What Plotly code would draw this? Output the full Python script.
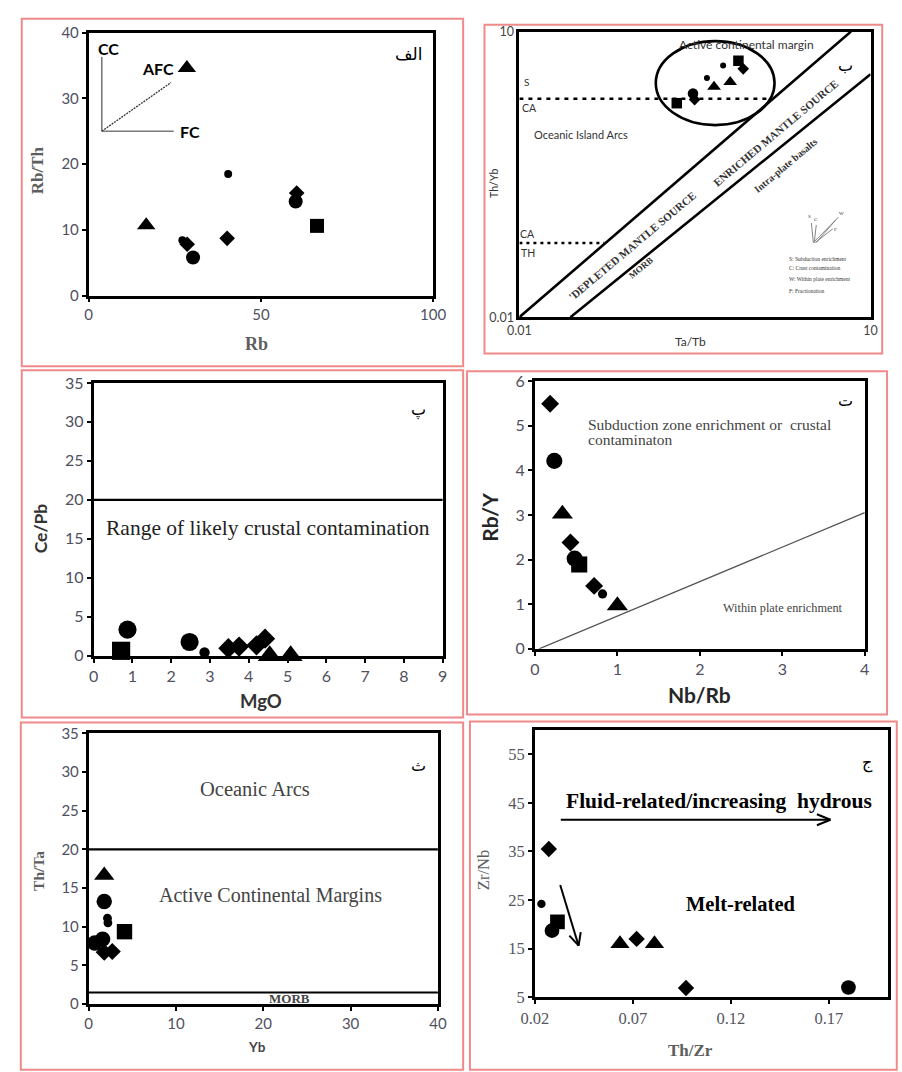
import math
import plotly.graph_objects as go

W, H = 902, 1072

# ---------------- DATA ----------------
# Panel الف : Rb vs Rb/Th
p1_circle_x = [30.3, 60.1]
p1_circle_y = [5.8, 14.3]
p1_dot_x = [40.5, 27.2]
p1_dot_y = [18.5, 8.4]
p1_diamond_x = [40.2, 60.4, 28.6]
p1_diamond_y = [8.7, 15.6, 7.8]
p1_triangle_x = [16.7, 28.5]
p1_triangle_y = [10.7, 34.6]
p1_square_x = [66.3]
p1_square_y = [10.6]
p1_vec_cc_x = [3.8, 3.8]
p1_vec_cc_y = [36.3, 25.0]
p1_vec_fc_x = [3.8, 24.7]
p1_vec_fc_y = [25.0, 25.0]
p1_vec_afc_x = [3.8, 23.9]
p1_vec_afc_y = [25.0, 32.4]

# Panel ب : Ta/Yb vs Th/Yb (log-log)
p2_circle_x = [0.304]
p2_circle_y = [2.24]
p2_dot_x = [0.40, 0.55]
p2_dot_y = [3.25, 4.39]
p2_diamond_x = [0.314, 0.817]
p2_diamond_y = [1.93, 4.06]
p2_triangle_x = [0.46, 0.632]
p2_triangle_y = [2.63, 2.96]
p2_square_x = [0.221, 0.743]
p2_square_y = [1.77, 4.94]
p2_upper_line_x = [0.01, 6.8]
p2_upper_line_y = [0.01, 10]
p2_lower_line_x = [0.0273, 10]
p2_lower_line_y = [0.01, 3.57]
p2_s_ca_x = [0.01, 1.31]
p2_s_ca_y = [1.97, 1.97]
p2_ca_th_x = [0.01, 0.053]
p2_ca_th_y = [0.06, 0.06]

# Panel پ : MgO vs Ce/Pb
p3_circle_x = [0.875, 2.475]
p3_circle_y = [3.35, 1.76]
p3_dot_x = [2.86]
p3_dot_y = [0.42]
p3_diamond_x = [3.475, 3.75, 4.2, 4.42]
p3_diamond_y = [0.96, 1.17, 1.34, 2.18]
p3_triangle_x = [4.54, 5.08]
p3_triangle_y = [0.0, 0.0]
p3_square_x = [0.71]
p3_square_y = [0.63]
p3_limit_y = 20

# Panel ت : Nb/Rb vs Rb/Y
p4_circle_x = [0.235, 0.482]
p4_circle_y = [4.21, 2.02]
p4_dot_x = [0.82]
p4_dot_y = [1.23]
p4_diamond_x = [0.184, 0.431, 0.718]
p4_diamond_y = [5.49, 2.38, 1.41]
p4_triangle_x = [0.333, 1.0]
p4_triangle_y = [3.02, 0.97]
p4_square_x = [0.537]
p4_square_y = [1.89]
p4_line_x = [0.05, 4.0]
p4_line_y = [0.0, 3.05]

# Panel ث : Yb vs Th/Ta
p5_circle_x = [1.78, 1.6, 0.7]
p5_circle_y = [13.26, 8.4, 7.9]
p5_dot_x = [2.15, 2.2]
p5_dot_y = [11.1, 10.5]
p5_diamond_x = [1.78, 2.7]
p5_diamond_y = [6.7, 6.8]
p5_triangle_x = [1.78]
p5_triangle_y = [16.65]
p5_square_x = [4.1]
p5_square_y = [9.36]
p5_arc_y = 20
p5_morb_y = 1.5

# Panel ج : Th/Zr vs Zr/Nb
p6_circle_x = [0.0287, 0.18]
p6_circle_y = [18.7, 7.0]
p6_dot_x = [0.0233]
p6_dot_y = [24.2]
p6_diamond_x = [0.0271, 0.0719, 0.0971]
p6_diamond_y = [35.5, 17.0, 6.9]
p6_triangle_x = [0.0634, 0.081]
p6_triangle_y = [16.0, 16.0]
p6_square_x = [0.0315]
p6_square_y = [20.5]
p6_fluid_arrow_x = [0.0332, 0.1708]
p6_fluid_arrow_y = [41.5, 41.5]
p6_melt_arrow_x = [0.0329, 0.0423]
p6_melt_arrow_y = [28.1, 15.6]

# ---------------- LAYOUT GEOMETRY ----------------
panels = {
    1: dict(box=(77, 23, 432, 291), xr=[0, 100], yr=[0, 40]),
    2: dict(box=(521, 22, 883, 313), xr=[-2, 1], yr=[-2, 1], log=True),
    3: dict(box=(82, 380, 442, 658), xr=[0, 9], yr=[0, 35]),
    4: dict(box=(537, 378, 877, 651), xr=[0, 4], yr=[0, 6]),
    5: dict(box=(77, 737, 437, 1013), xr=[0, 40], yr=[0, 35]),
    6: dict(box=(537, 733.5, 900.6, 1006), xr=[0.02, 0.2], yr=[5, 60]),
}


def PX(px):
    return px / W


def PY(py):
    return 1 - py / H


def to_page(i, x, y):
    p = panels[i]
    x0, y0, x1, y1 = p['box']
    if p.get('log'):
        x, y = math.log10(x), math.log10(y)
    fx = (x - p['xr'][0]) / (p['xr'][1] - p['xr'][0])
    fy = (y - p['yr'][0]) / (p['yr'][1] - p['yr'][0])
    return x0 + fx * (x1 - x0), y1 - fy * (y1 - y0)


fig = go.Figure()

tick_fonts = {
    1: dict(family='Lato, Open Sans', size=15, color='#50505e'),
    2: dict(family='Lato, Open Sans', size=12.5, color='#444444'),
    3: dict(family='Lato, Open Sans', size=16, color='#50505e'),
    4: dict(family='Lato, Open Sans', size=16, color='#50505e'),
    5: dict(family='Lato, Open Sans', size=15, color='#50505e'),
    6: dict(family='Liberation Serif', size=16.5, color='#555560'),
}
dticks = {1: (50, 10), 3: (1, 5), 4: (1, 1), 5: (10, 5), 6: (0.05, 10)}

layout_axes = {}
for i, p in panels.items():
    x0, y0, x1, y1 = p['box']
    s = '' if i == 1 else str(i)
    common = dict(showline=True, mirror=True, linecolor='black', linewidth=2.8,
                  showgrid=False, zeroline=False, tickfont=tick_fonts[i],
                  ticks='outside', ticklen=4, tickcolor='black', tickwidth=1.5)
    if p.get('log'):
        xa = dict(common, domain=[PX(x0), PX(x1)], anchor='y' + s, type='log', range=p['xr'],
                  tickvals=[0.01, 10], ticktext=['0.01', '10'], ticks='')
        ya = dict(common, domain=[PY(y1), PY(y0)], anchor='x' + s, type='log', range=p['yr'],
                  tickvals=[0.01, 10], ticktext=['0.01', '10'], ticks='')
    else:
        dx, dy = dticks[i]
        xa = dict(common, domain=[PX(x0), PX(x1)], anchor='y' + s, range=p['xr'],
                  tick0=p['xr'][0], dtick=dx)
        ya = dict(common, domain=[PY(y1), PY(y0)], anchor='x' + s, range=p['yr'],
                  tick0=p['yr'][0], dtick=dy)
    if i == 6:
        xa['tickvals'] = [0.02, 0.07, 0.12, 0.17]
        ya['tickvals'] = [5, 15, 25, 35, 45, 55]
    layout_axes['xaxis' + s] = xa
    layout_axes['yaxis' + s] = ya

# marker sizes per panel (style)
size_scale = {1: 1.0, 2: 0.75, 3: 1.3, 4: 1.15, 5: 1.1, 6: 1.05}
base = dict(circle=14, dot=8, diamond=12, triangle=16, square=14)
symbols = dict(circle='circle', dot='circle', diamond='diamond', triangle='triangle-up', square='square')

series = {
    1: dict(circle=(p1_circle_x, p1_circle_y), dot=(p1_dot_x, p1_dot_y), diamond=(p1_diamond_x, p1_diamond_y),
            triangle=(p1_triangle_x, p1_triangle_y), square=(p1_square_x, p1_square_y)),
    2: dict(circle=(p2_circle_x, p2_circle_y), dot=(p2_dot_x, p2_dot_y), diamond=(p2_diamond_x, p2_diamond_y),
            triangle=(p2_triangle_x, p2_triangle_y), square=(p2_square_x, p2_square_y)),
    3: dict(circle=(p3_circle_x, p3_circle_y), dot=(p3_dot_x, p3_dot_y), diamond=(p3_diamond_x, p3_diamond_y),
            triangle=(p3_triangle_x, p3_triangle_y), square=(p3_square_x, p3_square_y)),
    4: dict(circle=(p4_circle_x, p4_circle_y), dot=(p4_dot_x, p4_dot_y), diamond=(p4_diamond_x, p4_diamond_y),
            triangle=(p4_triangle_x, p4_triangle_y), square=(p4_square_x, p4_square_y)),
    5: dict(circle=(p5_circle_x, p5_circle_y), dot=(p5_dot_x, p5_dot_y), diamond=(p5_diamond_x, p5_diamond_y),
            triangle=(p5_triangle_x, p5_triangle_y), square=(p5_square_x, p5_square_y)),
    6: dict(circle=(p6_circle_x, p6_circle_y), dot=(p6_dot_x, p6_dot_y), diamond=(p6_diamond_x, p6_diamond_y),
            triangle=(p6_triangle_x, p6_triangle_y), square=(p6_square_x, p6_square_y)),
}


def axes_of(i):
    s = '' if i == 1 else str(i)
    return 'x' + s, 'y' + s


def add_line(i, xs, ys, color='black', width=2.5, dash='solid'):
    xa, ya = axes_of(i)
    fig.add_trace(go.Scatter(x=xs, y=ys, mode='lines', xaxis=xa, yaxis=ya, showlegend=False,
                             hoverinfo='skip', line=dict(color=color, width=width, dash=dash),
                             cliponaxis=False))


# reference lines
add_line(1, p1_vec_cc_x, p1_vec_cc_y, color='#7a7a7a', width=1.6)
add_line(1, p1_vec_fc_x, p1_vec_fc_y, color='#7a7a7a', width=1.6)
add_line(1, p1_vec_afc_x, p1_vec_afc_y, color='#333333', width=1.3, dash='2px,1px')
add_line(2, p2_upper_line_x, p2_upper_line_y, width=2.6)
add_line(2, p2_lower_line_x, p2_lower_line_y, width=2.6)
add_line(2, p2_s_ca_x, p2_s_ca_y, width=2.5, dash='4px,5px')
add_line(2, p2_ca_th_x, p2_ca_th_y, width=2.5, dash='3px,4px')
add_line(3, panels[3]['xr'], [p3_limit_y, p3_limit_y], width=2.4)
add_line(4, p4_line_x, p4_line_y, color='#555555', width=1.3)
add_line(5, panels[5]['xr'], [p5_arc_y, p5_arc_y], width=2.4)
add_line(5, [panels[5]['xr'][0], panels[5]['xr'][1] + 0.5], [p5_morb_y, p5_morb_y], width=2.2)

# data markers
for i, ser in series.items():
    xa, ya = axes_of(i)
    for kind, (xs, ys) in ser.items():
        fig.add_trace(go.Scatter(x=xs, y=ys, mode='markers', xaxis=xa, yaxis=ya, showlegend=False,
                                 cliponaxis=False,
                                 marker=dict(symbol=symbols[kind], color='black',
                                             size=base[kind] * size_scale[i], line=dict(width=0))))

shapes = []
annotations = []

# red panel frames
for (a, b, c, d) in [(8, 9, 463, 363), (485, 15, 895, 350), (8, 367, 463, 721),
                     (467, 368, 900, 718), (7, 726, 463, 1080), (470, 725, 910, 1080)]:
    shapes.append(dict(type='rect', xref='paper', yref='paper', x0=PX(a), x1=PX(c), y0=PY(d), y1=PY(b),
                       line=dict(color='#f08a8a', width=2), layer='below'))

# ellipse in panel ب
shapes.append(dict(type='circle', xref='paper', yref='paper', x0=PX(661.6), x1=PX(784),
                   y0=PY(117.3), y1=PY(31.7), line=dict(color='black', width=2.6)))

# vector inset in panel ب
for (xa_, ya_, xb_, yb_) in [(824, 237, 822, 217), (825, 237, 827, 219), (824, 237, 850, 211),
                             (826, 237, 844, 223), (827, 237, 847, 214)]:
    shapes.append(dict(type='line', xref='paper', yref='paper', x0=PX(xa_), y0=PY(ya_), x1=PX(xb_),
                       y1=PY(yb_), line=dict(color='#777777', width=0.9)))


def arrow(i, xs, ys, head=13, ang=24):
    (ax, ay), (bx, by) = to_page(i, xs[0], ys[0]), to_page(i, xs[1], ys[1])
    shapes.append(dict(type='line', xref='paper', yref='paper', x0=PX(ax), y0=PY(ay), x1=PX(bx), y1=PY(by),
                       line=dict(color='black', width=2)))
    th = math.atan2(ay - by, ax - bx)
    for s in (-1, 1):
        t = th + s * math.radians(ang)
        wx, wy = bx + head * math.cos(t), by + head * math.sin(t)
        shapes.append(dict(type='line', xref='paper', yref='paper', x0=PX(bx), y0=PY(by), x1=PX(wx),
                           y1=PY(wy), line=dict(color='black', width=2)))


arrow(6, p6_fluid_arrow_x, p6_fluid_arrow_y, head=15, ang=22)
arrow(6, p6_melt_arrow_x, p6_melt_arrow_y, head=14, ang=26)


def text(t, px, py, size, family='Liberation Serif', color='black', bold=False, angle=0,
         xanchor='center', bg=None):
    if bold:
        t = '<b>' + t + '</b>'
    a = dict(text=t, x=PX(px), y=PY(py), xref='paper', yref='paper', showarrow=False,
             xanchor=xanchor, yanchor='middle', textangle=angle,
             font=dict(family=family, size=size, color=color))
    if bg:
        a['bgcolor'] = bg
    annotations.append(a)


SANS = 'Lato, Open Sans, sans-serif'
SERIF = 'Liberation Serif, serif'
AR = 'DejaVu Sans'

# panel letters
text('الف', 407, 45, 17, AR)
text('ب', 857, 57, 16, AR)
text('پ', 417, 408, 16, AR)
text('ت', 857, 398, 16, AR)
text('ث', 417, 770, 16, AR)
text('ج', 880, 767, 16, AR)

# Panel 1 texts
text('CC', 97, 39, 16, SANS, bold=True)
text('AFC', 148, 60, 16, SANS, bold=True)
text('FC', 181, 124, 16, SANS, bold=True)
text('Rb/Th', 25, 163, 17, SERIF, color='#5e5e5e', bold=True, angle=-90)
text('Rb', 250, 340, 18, SERIF, color='#5e5e5e', bold=True)

# Panel 2 texts
text('Active continental margin', 755, 35, 12, SANS, color='#333333')
text('S', 528, 73, 10, SANS, color='#333333')
text('CA', 531, 100, 10.5, SANS, color='#333333')
text('Oceanic Island Arcs', 585, 127, 11, SANS, color='#333333')
text('CA', 529, 228, 10.5, SANS, color='#333333')
text('TH', 530, 248, 10.5, SANS, color='#333333')
text('ENRICHED MANTLE SOURCE', 785, 125, 11, SERIF, color='#333333', bold=True, angle=-40)
text("'DEPLETED MANTLE SOURCE", 637, 240, 11, SERIF, color='#333333', bold=True, angle=-40)
text('MORB', 646, 263, 9, SERIF, color='#333333', bold=True, angle=-40)
text('Intra-plate basalts', 795, 158, 10, SERIF, color='#333333', bold=True, angle=-40)
text('S', 820, 210, 5, SERIF, color='#333333')
text('C', 827, 213, 5, SERIF, color='#333333')
text('W', 853, 207, 5, SERIF, color='#333333')
text('F', 847, 224, 5, SERIF, color='#333333')
text('S: Subduction enrichment', 797, 254, 5.5, SERIF, color='#333333', xanchor='left')
text('C: Crust contamination', 797, 263, 5.5, SERIF, color='#333333', xanchor='left')
text('W: Within plate enrichment', 797, 274, 5.5, SERIF, color='#333333', xanchor='left')
text('F: Fractionation', 797, 286, 5.5, SERIF, color='#333333', xanchor='left')
text('Th/Yb', 495, 177, 10.5, SANS, color='#333333', angle=-90)
text('Ta/Tb', 697, 338, 12, SANS, color='#333333')

# Panel 3 texts
text('Range of likely crustal contamination', 262, 528, 21.5, SERIF, color='#222222')
text('Ce/Pb', 27, 528, 17.5, SANS, color='#333333', bold=True, angle=-90)
text('MgO', 255, 704, 18.5, SANS, color='#333333', bold=True)

# Panel 4 texts
text('Subduction zone enrichment or  crustal', 590, 422, 15.5, SERIF, color='#444444', xanchor='left')
text('contaminaton', 590, 438, 15.5, SERIF, color='#444444', xanchor='left')
text('Within plate enrichment', 793, 609, 12.3, SERIF, color='#444444')
text('Rb/Y', 490, 517, 21, SANS, color='#262626', bold=True, angle=-90)
text('Nb/Rb', 707, 698, 21, SANS, color='#262626', bold=True)

# Panel 5 texts
text('Oceanic Arcs', 248, 794, 20.5, SERIF, color='#444444')
text('Active Continental Margins', 264, 902, 20, SERIF, color='#444444')
text('MORB', 284, 1007, 13, SERIF, color='#444444', bold=True)
text('Th/Ta', 25, 877, 15.5, SERIF, color='#5e5e5e', bold=True, angle=-90)
text('Yb', 250, 1057, 13.5, SANS, color='#444444', bold=True)

# Panel 6 texts
text('Fluid-related/increasing  hydrous', 727, 806, 21.5, SERIF, bold=True)
text('Melt-related', 749, 911, 20.5, SERIF, bold=True)
text('Zr/Nb', 484, 877, 16.5, SERIF, color='#5e5e5e', angle=-90)
text('Th/Zr', 697, 1060, 17, SERIF, color='#5e5e5e', bold=True)

fig.update_layout(width=W, height=H, margin=dict(l=0, r=0, t=0, b=0),
                  paper_bgcolor='white', plot_bgcolor='white', showlegend=False,
                  shapes=shapes, annotations=annotations, **layout_axes)

fig.write_html('out.html')
